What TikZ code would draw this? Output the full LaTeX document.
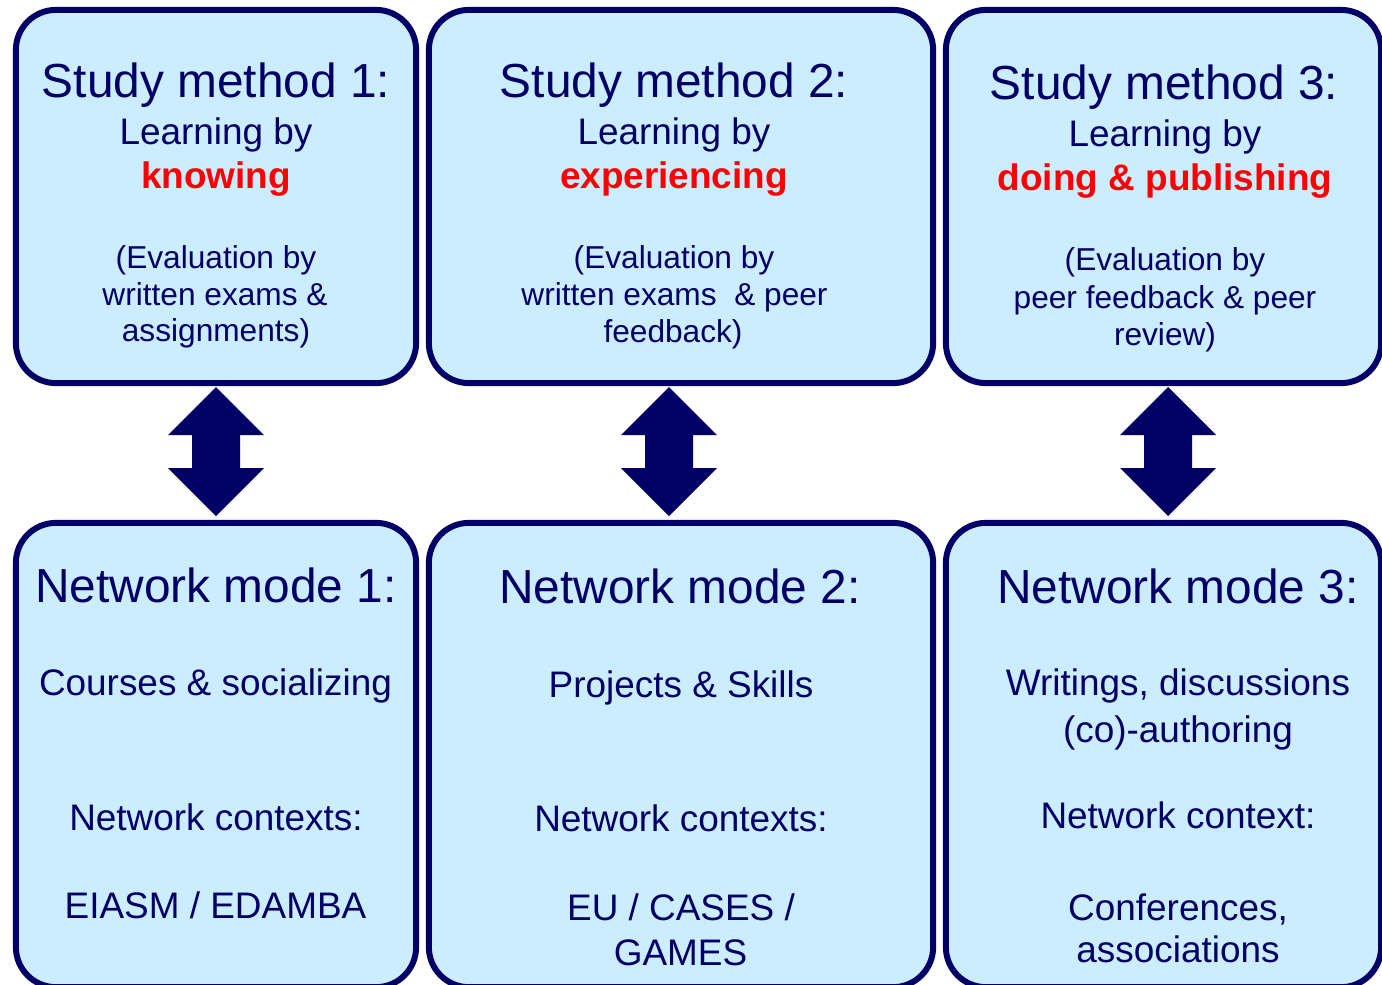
\documentclass[tikz,border=0pt]{standalone}
\usepackage{fontspec}
\setmainfont{Liberation Sans}
\definecolor{navy}{RGB}{0,0,102}
\definecolor{paleblue}{RGB}{204,236,255}
\definecolor{hired}{RGB}{255,0,0}
\tikzset{
  box/.style={draw=navy,fill=paleblue,line width=1.7pt,rounded corners=0.4cm,inner sep=0pt,outer sep=0pt},
  head/.style={anchor=base,text=navy,inner sep=0pt,font=\fontsize{13.6}{16}\selectfont},
  line/.style={anchor=base,text=navy,inner sep=0pt,font=\fontsize{10.5}{12.6}\selectfont},
  key/.style={anchor=base,text=hired,inner sep=0pt,font=\fontsize{10.5}{12.6}\selectfont\bfseries},
  small/.style={anchor=base,text=navy,inner sep=0pt,font=\fontsize{9}{11}\selectfont},
  bigarrow/.style={fill=navy}
}
\begin{document}
\begin{tikzpicture}[x=0.01cm,y=-0.01cm]
\useasboundingbox (0,0) rectangle (1382,984);
% study method boxes
\node[box,minimum width=4.00cm,minimum height=3.73cm] (sm1) at (216,196.5) {};
\node[box,minimum width=5.04cm,minimum height=3.73cm] (sm2) at (681,196.5) {};
\node[box,minimum width=4.35cm,minimum height=3.73cm] (sm3) at (1163.5,196.5) {};
% network mode boxes
\node[box,minimum width=4.00cm,minimum height=4.64cm] (nm1) at (216,755) {};
\node[box,minimum width=5.04cm,minimum height=4.64cm] (nm2) at (681,755) {};
\node[box,minimum width=4.35cm,minimum height=4.64cm] (nm3) at (1163.5,755) {};
% texts, study method 1
\node[head] (sm1a) at (216,97) {Study method 1:};
\node[line] (sm1b) at (216,144) {Learning by};
\node[key] (sm1c) at (216,188) {knowing};
\node[small] (sm1d) at (216,268) {(Evaluation by};
\node[small] (sm1e) at (215,305) {written exams \&};
\node[small] (sm1f) at (216,341) {assignments)};
% texts, study method 2
\node[head] (sm2a) at (674,97) {Study method 2:};
\node[line] (sm2b) at (674,144) {Learning by};
\node[key] (sm2c) at (674,188) {experiencing};
\node[small] (sm2d) at (674,268) {(Evaluation by};
\node[small] (sm2e) at (674.5,305) {written exams\ \ \& peer};
\node[small] (sm2f) at (673,342) {feedback)};
% texts, study method 3
\node[head] (sm3a) at (1164,99) {Study method 3:};
\node[line] (sm3b) at (1165,146) {Learning by};
\node[key] (sm3c) at (1165,190) {doing \& publishing};
\node[small] (sm3d) at (1165,270) {(Evaluation by};
\node[small] (sm3e) at (1165,308) {peer feedback \& peer};
\node[small] (sm3f) at (1165,345) {review)};
% texts, network mode 1
\node[head] (nm1a) at (216,602) {Network mode 1:};
\node[line] (nm1b) at (215.5,695) {Courses \& socializing};
\node[line] (nm1c) at (216,830) {Network contexts:};
\node[line] (nm1d) at (215.5,918) {EIASM / EDAMBA};
% texts, network mode 2
\node[head] (nm2a) at (680,603) {Network mode 2:};
\node[line] (nm2b) at (681,697) {Projects \& Skills};
\node[line] (nm2c) at (681,831) {Network contexts:};
\node[line] (nm2d) at (681,920) {EU / CASES /};
\node[line] (nm2e) at (680.5,965) {GAMES};
% texts, network mode 3
\node[head] (nm3a) at (1178,603) {Network mode 3:};
\node[line] (nm3b) at (1178,695) {Writings, discussions};
\node[line] (nm3c) at (1178,742) {(co)-authoring};
\node[line] (nm3d) at (1178,828) {Network context:};
\node[line] (nm3e) at (1178,920) {Conferences,};
\node[line] (nm3f) at (1178,962) {associations};
% double arrows between the rows
\coordinate (up1) at (216,387); \coordinate (dn1) at (216,516);
\coordinate (up2) at (669,387); \coordinate (dn2) at (669,516);
\coordinate (up3) at (1168,387); \coordinate (dn3) at (1168,516);
\fill[bigarrow] (up1) -- ++(48,48) -- ++(-24,0) -- ++(0,33) -- ++(24,0) -- (dn1) -- ++(-48,-48) -- ++(24,0) -- ++(0,-33) -- ++(-24,0) -- cycle;
\fill[bigarrow] (up2) -- ++(48,48) -- ++(-24,0) -- ++(0,33) -- ++(24,0) -- (dn2) -- ++(-48,-48) -- ++(24,0) -- ++(0,-33) -- ++(-24,0) -- cycle;
\fill[bigarrow] (up3) -- ++(48,48) -- ++(-24,0) -- ++(0,33) -- ++(24,0) -- (dn3) -- ++(-48,-48) -- ++(24,0) -- ++(0,-33) -- ++(-24,0) -- cycle;
\end{tikzpicture}
\end{document}
